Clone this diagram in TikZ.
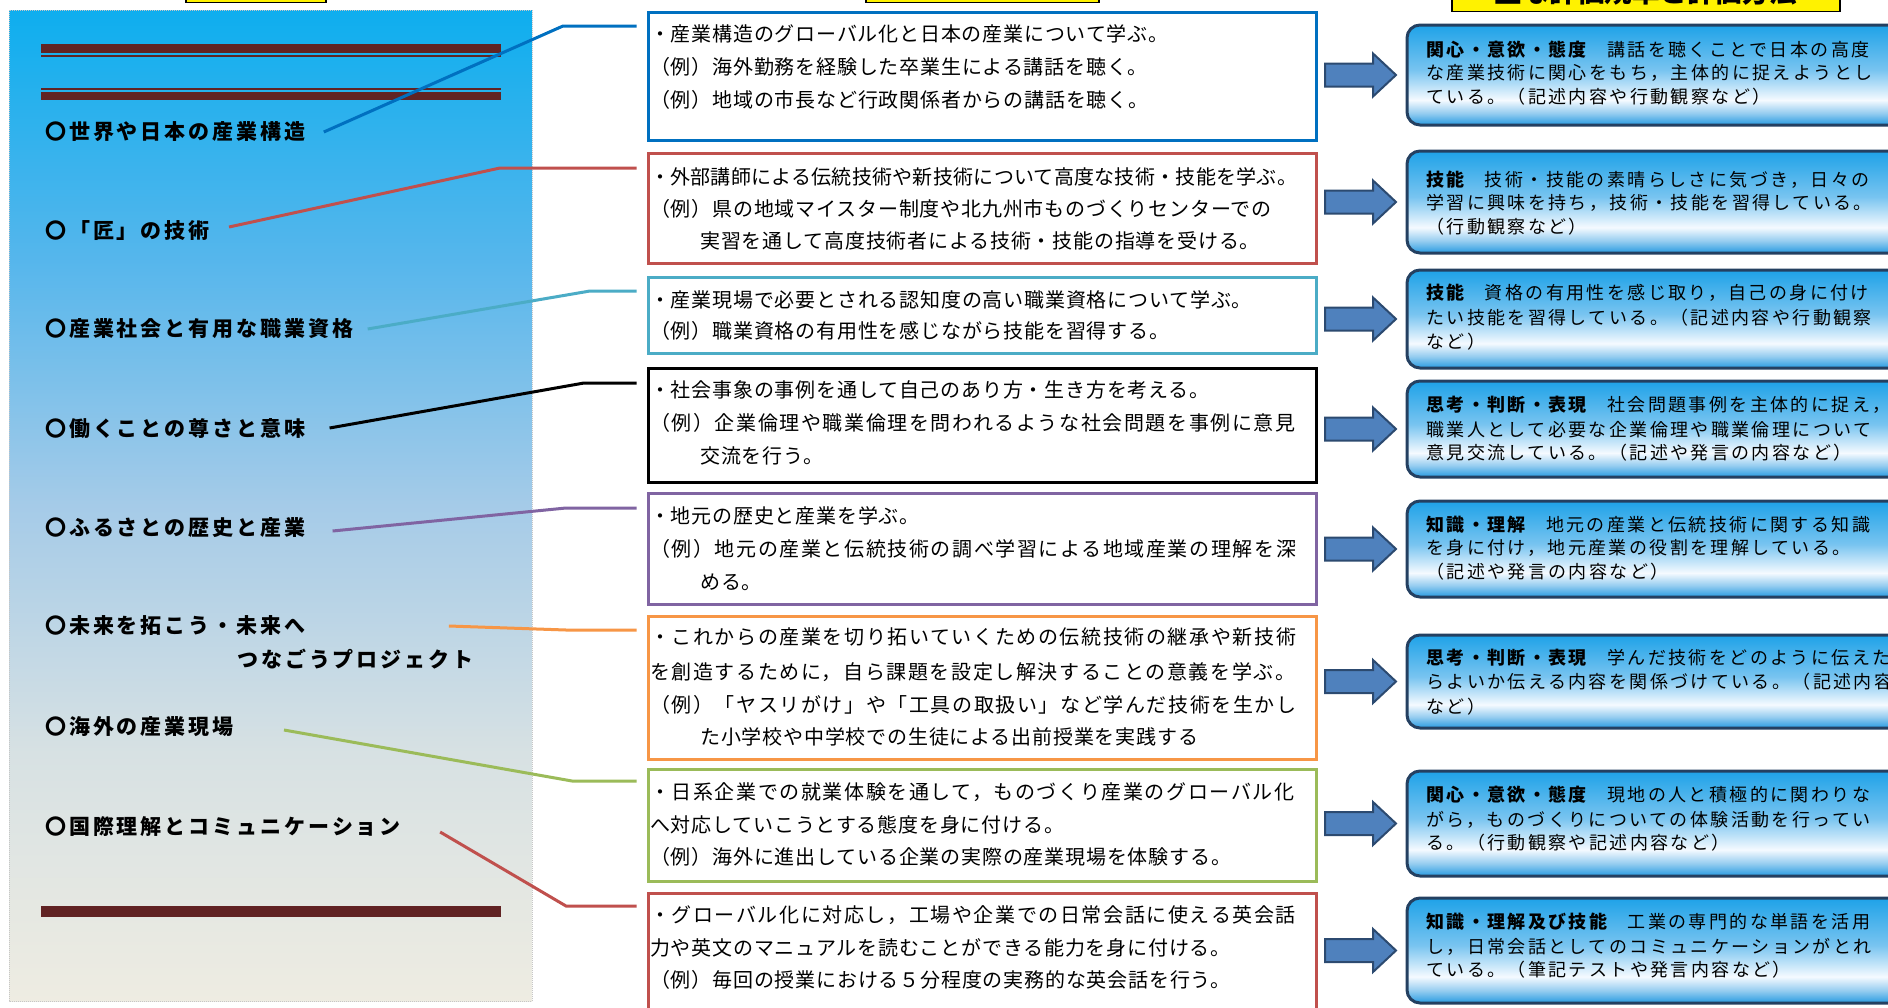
\documentclass[tikz,border=0pt]{standalone}
\usepackage{fontspec}
\setmainfont{Noto Sans CJK JP}
\newfontfamily\fleft[LetterSpace=14]{Noto Sans CJK JP}
\newfontfamily\fmid[LetterSpace=4]{Noto Sans CJK JP}
\newfontfamily\fmidw[LetterSpace=8]{Noto Sans CJK JP}
\newfontfamily\fmidn[LetterSpace=1.3]{Noto Sans CJK JP}
\newfontfamily\fright[LetterSpace=13.3]{Noto Sans CJK JP}
\newfontfamily\fhead{Noto Sans CJK JP}
\definecolor{panelA}{RGB}{14,174,238}
\definecolor{panelB}{RGB}{85,182,236}
\definecolor{panelC}{RGB}{165,203,232}
\definecolor{panelD}{RGB}{215,225,227}
\definecolor{panelE}{RGB}{238,236,226}
\definecolor{rA}{RGB}{30,162,232}
\definecolor{rB}{RGB}{120,196,240}
\definecolor{rC}{RGB}{245,250,255}
\definecolor{rD}{RGB}{150,205,240}
\definecolor{rE}{RGB}{40,155,225}
\definecolor{barc}{RGB}{97,35,35}
\definecolor{cblue}{RGB}{0,112,192}
\definecolor{cred}{RGB}{192,80,77}
\definecolor{cteal}{RGB}{75,172,198}
\definecolor{cpurple}{RGB}{128,100,162}
\definecolor{corange}{RGB}{247,150,70}
\definecolor{cgreen}{RGB}{155,187,89}
\definecolor{rborder}{RGB}{36,64,97}
\definecolor{arrfill}{RGB}{79,129,189}
\definecolor{arrdraw}{RGB}{44,74,112}
\pgfdeclareverticalshading{panelshade}{100bp}{color(0bp)=(panelE); color(25bp)=(panelE); color(37.5bp)=(panelD); color(50bp)=(panelC); color(62.5bp)=(panelB); color(75bp)=(panelA); color(100bp)=(panelA)}
\pgfdeclareverticalshading{rshade}{100bp}{color(0bp)=(rE); color(25bp)=(rE); color(31bp)=(rD); color(37.5bp)=(rC); color(52.5bp)=(rB); color(75bp)=(rA); color(100bp)=(rA)}
\tikzset{
  conn/.style={line width=3pt, shorten >=10pt},
  lefttxt/.style={anchor=west, inner sep=0pt, font=\fleft\bfseries\fontsize{21}{25}\selectfont},
  mbox/.style={draw, line width=3pt, anchor=north west, minimum width=668pt, inner sep=0pt},
  mtxt/.style={anchor=west, inner sep=0pt, font=\fmid\fontsize{20}{24}\selectfont},
  rbox/.style={draw=rborder, line width=3pt, rounded corners=13pt, shade, shading=rshade, anchor=north west, minimum width=600pt, inner sep=0pt},
  rtxt/.style={anchor=west, inner sep=0pt, font=\fright\fontsize{18}{22}\selectfont},
  barrow/.style={fill=arrfill, draw=arrdraw, line width=2pt, line join=miter},
  ybox/.style={fill=yellow, draw=black, line width=1.3pt},
}
\begin{document}
\begin{tikzpicture}[x=1pt,y=-1pt]
\useasboundingbox (0,0) rectangle (1888,1007);
\clip (0,0) rectangle (1888,1007);
\fill[white] (0,0) rectangle (1888,1007);

% header boxes (cut off at top)
\draw[ybox] (186,-30) rectangle (326,2.5);
\draw[ybox] (866,-30) rectangle (1099,2.5);
\draw[ybox] (1452,-30) rectangle (1840,11.5);
\node[font=\fhead\bfseries\fontsize{27.5}{30}\selectfont, anchor=base, inner sep=0pt] (hd) at (1646,2.5) {主な評価規準と評価方法};

% left panel
\shade[shading=panelshade] (9,10) rectangle (532,1001);
\draw[gray!45, densely dotted, line width=1pt] (9,10) rectangle (532,1001);
\fill[barc] (41,44) rectangle (501,53);
\fill[barc] (41,54.5) rectangle (501,56.5);
\fill[barc] (41,88) rectangle (501,90);
\fill[barc] (41,91.5) rectangle (501,100);
\fill[barc] (41,906) rectangle (501,917);

% left texts
\node[lefttxt] (lt1) at (45,132) {〇世界や日本の産業構造};
\node[lefttxt] (lt2) at (45,231) {〇「匠」の技術};
\node[lefttxt] (lt3) at (45,329) {〇産業社会と有用な職業資格};
\node[lefttxt] (lt4) at (45,428) {〇働くことの尊さと意味};
\node[lefttxt] (lt5) at (45,528) {〇ふるさとの歴史と産業};
\node[lefttxt] (lt6a) at (45,626) {〇未来を拓こう・未来へ};
\node[lefttxt] (lt6b) at (237,659) {つなごうプロジェクト};
\node[lefttxt] (lt7) at (45,727) {〇海外の産業現場};
\node[lefttxt] (lt8) at (45,827) {〇国際理解とコミュニケーション};

% middle boxes
\node[mbox, draw=cblue, minimum height=128pt] (M1) at (646.5,10.5) {};
\node[mbox, draw=cred, minimum height=110pt] (M2) at (646.5,151.5) {};
\node[mbox, draw=cteal, minimum height=76pt] (M3) at (646.5,275.5) {};
\node[mbox, draw=black, minimum height=114pt] (M4) at (646.5,366.5) {};
\node[mbox, draw=cpurple, minimum height=111pt] (M5) at (646.5,491.5) {};
\node[mbox, draw=corange, minimum height=143pt] (M6) at (646.5,614.5) {};
\node[mbox, draw=cgreen, minimum height=112pt] (M7) at (646.5,767.5) {};
\node[mbox, draw=cred, minimum height=140pt] (M8) at (646.5,891.5) {};

% connectors
\coordinate (k1) at (563,26);
\coordinate (k2) at (500,168);
\coordinate (k3) at (590,291);
\coordinate (k4) at (584,383);
\coordinate (k5) at (566,508);
\coordinate (k6) at (566,630);
\coordinate (k7) at (572,781);
\coordinate (k8) at (566,906);
\draw[conn, cblue] ([xshift=18pt]lt1.east) -- (k1) -- (k1 -| M1.west);
\draw[conn, cred] ([xshift=19pt,yshift=4pt]lt2.east) -- (k2) -- (k2 -| M2.west);
\draw[conn, cteal] ([xshift=14pt]lt3.east) -- (k3) -- (k3 -| M3.west);
\draw[conn, black] ([xshift=24pt]lt4.east) -- (k4) -- (k4 -| M4.west);
\draw[conn, cpurple] ([xshift=27pt,yshift=-3pt]lt5.east) -- (k5) -- (k5 -| M5.west);
\draw[conn, corange] ([xshift=143pt]lt6a.east) -- (k6) -- (k6 -| M6.west);
\draw[conn, cgreen] ([xshift=50pt,yshift=-3pt]lt7.east) -- (k7) -- (k7 -| M7.west);
\draw[conn, cred] ([xshift=39pt,yshift=-5pt]lt8.east) -- (k8) -- (k8 -| M8.west);

% middle texts
\foreach \yy/\t [count=\i] in {34/{・産業構造のグローバル化と日本の産業について学ぶ。},67/{（例）海外勤務を経験した卒業生による講話を聴く。},100/{（例）地域の市長など行政関係者からの講話を聴く。}}
  \node[mtxt] (M1t\i) at (650,\yy) {\t};
\foreach \yy/\t [count=\i] in {177/{{\fmidn ・外部講師による伝統技術や新技術について高度な技術・技能を学ぶ。}},209/{（例）県の地域マイスター制度や北九州市ものづくりセンターでの},241/{\hspace*{2.5em}実習を通して高度技術者による技術・技能の指導を受ける。}}
  \node[mtxt] (M2t\i) at (650,\yy) {\t};
\foreach \yy/\t [count=\i] in {300/{・産業現場で必要とされる認知度の高い職業資格について学ぶ。},331/{（例）職業資格の有用性を感じながら技能を習得する。}}
  \node[mtxt] (M3t\i) at (650,\yy) {\t};
\foreach \yy/\t [count=\i] in {390/{・社会事象の事例を通して自己のあり方・生き方を考える。},423/{{\fmidw （例）企業倫理や職業倫理を問われるような社会問題を事例に意見}},456/{\hspace*{2.5em}交流を行う。}}
  \node[mtxt] (M4t\i) at (650,\yy) {\t};
\foreach \yy/\t [count=\i] in {516/{・地元の歴史と産業を学ぶ。},549/{{\fmidw （例）地元の産業と伝統技術の調べ学習による地域産業の理解を深}},582/{\hspace*{2.5em}める。}}
  \node[mtxt] (M5t\i) at (650,\yy) {\t};
\foreach \yy/\t [count=\i] in {637/{{\fmidw ・これからの産業を切り拓いていくための伝統技術の継承や新技術}},672/{{\fmidw を創造するために，自ら課題を設定し解決することの意義を学ぶ。}},705/{{\fmidw （例）「ヤスリがけ」や「工具の取扱い」など学んだ技術を生かし}},737/{\hspace*{2.5em}た小学校や中学校での生徒による出前授業を実践する}}
  \node[mtxt] (M6t\i) at (650,\yy) {\t};
\foreach \yy/\t [count=\i] in {792/{{\fmidw ・日系企業での就業体験を通して，ものづくり産業のグローバル化}},825/{へ対応していこうとする態度を身に付ける。},857/{（例）海外に進出している企業の実際の産業現場を体験する。}}
  \node[mtxt] (M7t\i) at (650,\yy) {\t};
\foreach \yy/\t [count=\i] in {915/{{\fmidw ・グローバル化に対応し，工場や企業での日常会話に使える英会話}},948/{力や英文のマニュアルを読むことができる能力を身に付ける。},980/{（例）毎回の授業における５分程度の実務的な英会話を行う。}}
  \node[mtxt] (M8t\i) at (650,\yy) {\t};

% right boxes
\node[rbox, minimum height=100pt] (R1) at (1405.5,23.5) {};
\node[rbox, minimum height=102pt] (R2) at (1405.5,149.5) {};
\node[rbox, minimum height=98pt] (R3) at (1405.5,268.5) {};
\node[rbox, minimum height=96pt] (R4) at (1405.5,379.5) {};
\node[rbox, minimum height=96pt] (R5) at (1405.5,499.5) {};
\node[rbox, minimum height=93pt] (R6) at (1405.5,633.5) {};
\node[rbox, minimum height=105pt] (R7) at (1405.5,769.5) {};
\node[rbox, minimum height=105pt] (R8) at (1405.5,896.5) {};

% block arrows
\foreach \r in {R1,R2,R3,R4,R5,R6,R7,R8}
  \draw[barrow] ([xshift=-80.5pt]\r.west) ++(0,-11.5) -- ++(48,0) -- ++(0,-10) -- ++(23,21.5) -- ++(-23,21.5) -- ++(0,-10) -- ++(-48,0) -- cycle;

% right texts
\foreach \yy/\t [count=\i] in {50/{{\bfseries 関心・意欲・態度}　講話を聴くことで日本の高度},73/{な産業技術に関心をもち，主体的に捉えようとし},97/{ている。（記述内容や行動観察など）}}
  \node[rtxt] (R1t\i) at (1426,\yy) {\t};
\foreach \yy/\t [count=\i] in {180/{{\bfseries 技能}　技術・技能の素晴らしさに気づき，日々の},203/{学習に興味を持ち，技術・技能を習得している。},227/{（行動観察など）}}
  \node[rtxt] (R2t\i) at (1426,\yy) {\t};
\foreach \yy/\t [count=\i] in {293/{{\bfseries 技能}　資格の有用性を感じ取り，自己の身に付け},318/{たい技能を習得している。（記述内容や行動観察},342/{など）}}
  \node[rtxt] (R3t\i) at (1426,\yy) {\t};
\foreach \yy/\t [count=\i] in {405/{{\bfseries 思考・判断・表現}　社会問題事例を主体的に捉え，},430/{職業人として必要な企業倫理や職業倫理について},453/{意見交流している。（記述や発言の内容など）}}
  \node[rtxt] (R4t\i) at (1426,\yy) {\t};
\foreach \yy/\t [count=\i] in {525/{{\bfseries 知識・理解}　地元の産業と伝統技術に関する知識},548/{を身に付け，地元産業の役割を理解している。},572/{（記述や発言の内容など）}}
  \node[rtxt] (R5t\i) at (1426,\yy) {\t};
\foreach \yy/\t [count=\i] in {658/{{\bfseries 思考・判断・表現}　学んだ技術をどのように伝えた},682/{らよいか伝える内容を関係づけている。（記述内容},707/{など）}}
  \node[rtxt] (R6t\i) at (1426,\yy) {\t};
\foreach \yy/\t [count=\i] in {795/{{\bfseries 関心・意欲・態度}　現地の人と積極的に関わりな},820/{がら，ものづくりについての体験活動を行ってい},843/{る。（行動観察や記述内容など）}}
  \node[rtxt] (R7t\i) at (1426,\yy) {\t};
\foreach \yy/\t [count=\i] in {922/{{\bfseries 知識・理解及び技能}　工業の専門的な単語を活用},947/{し，日常会話としてのコミュニケーションがとれ},970/{ている。（筆記テストや発言内容など）}}
  \node[rtxt] (R8t\i) at (1426,\yy) {\t};
\end{tikzpicture}
\end{document}
